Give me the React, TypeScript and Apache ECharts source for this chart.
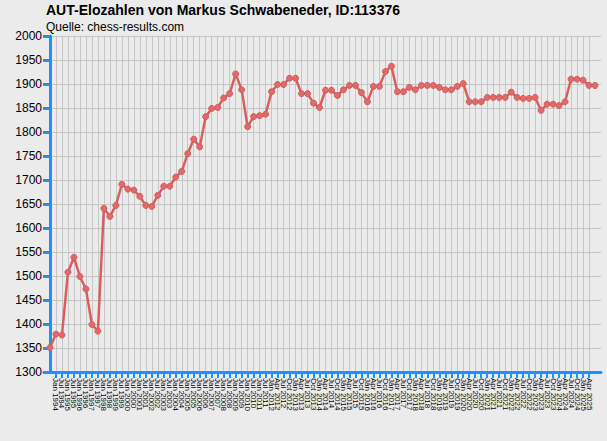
import React, { useEffect, useRef } from "react";
import * as echarts from "echarts";

const titleText = "AUT-Elozahlen von Markus Schwabeneder, ID:113376";
const sourceText = "Quelle: chess-results.com";

const periods: string[] = [
  "Jul 1993",
  "Jan 1994", "Jul 1994", "Jan 1995", "Jul 1995", "Jan 1996", "Jul 1996",
  "Jan 1997", "Jul 1997", "Jan 1998", "Jul 1998", "Jan 1999", "Jul 1999",
  "Jan 2000", "Jul 2000", "Jan 2001", "Jul 2001", "Jan 2002", "Jul 2002",
  "Jan 2003", "Jul 2003", "Jan 2004", "Jul 2004", "Jan 2005", "Jul 2005",
  "Jan 2006", "Jul 2006", "Jan 2007", "Jul 2007", "Jan 2008", "Jul 2008",
  "Jan 2009", "Jul 2009", "Jan 2010", "Jul 2010", "Jan 2011", "Jul 2011",
  "Jan 2012", "Apr 2012", "Jul 2012", "Oct 2012",
  "Jan 2013", "Apr 2013", "Jul 2013", "Oct 2013",
  "Jan 2014", "Apr 2014", "Jul 2014", "Oct 2014",
  "Jan 2015", "Apr 2015", "Jul 2015", "Oct 2015",
  "Jan 2016", "Apr 2016", "Jul 2016", "Oct 2016",
  "Jan 2017", "Apr 2017", "Jul 2017", "Oct 2017",
  "Jan 2018", "Apr 2018", "Jul 2018", "Oct 2018",
  "Jan 2019", "Apr 2019", "Jul 2019", "Oct 2019",
  "Jan 2020", "Apr 2020", "Jul 2020", "Oct 2020",
  "Jan 2021", "Apr 2021", "Jul 2021", "Oct 2021",
  "Jan 2022", "Apr 2022", "Jul 2022", "Oct 2022",
  "Jan 2023", "Apr 2023", "Jul 2023", "Oct 2023",
  "Jan 2024", "Apr 2024", "Jul 2024", "Oct 2024",
  "Jan 2025", "Apr 2025", "Jul 2025",
];

const eloValues: number[] = [
  1351, 1379, 1377, 1508, 1539, 1499, 1473, 1399, 1385, 1641,
  1624, 1647, 1691, 1681, 1679, 1666, 1647, 1645, 1668, 1687,
  1687, 1706, 1718, 1755, 1785, 1769, 1832, 1849, 1851, 1871,
  1880, 1921, 1888, 1811, 1832, 1834, 1837, 1884, 1899, 1899,
  1912, 1912, 1880, 1880, 1860, 1851, 1887, 1887, 1876, 1888,
  1897, 1897, 1882, 1863, 1895, 1895, 1926, 1937, 1884, 1884,
  1893, 1888, 1897, 1897, 1897, 1893, 1888, 1888, 1895, 1901,
  1863, 1863, 1863, 1872, 1872, 1872, 1872, 1883, 1872, 1870,
  1870, 1872, 1845, 1858, 1858, 1855, 1863, 1910, 1910, 1908,
  1897, 1897,
];

const yMin = 1300;
const yMax = 2000;
const yStep = 50;

export default function App() {
  const ref = useRef<HTMLDivElement>(null);
  useEffect(() => {
    if (!ref.current) return;
    const chart = echarts.init(ref.current, null, { renderer: "svg" });
    const idx = periods.map((_, i) => i);
    const blue = "#1e90ff";
    const font = "'Liberation Sans', Arial, sans-serif";
    chart.setOption({
      animation: false,
      backgroundColor: "#ebebeb",
      title: [
        {
          text: titleText,
          left: 46,
          top: 3,
          padding: 0,
          textStyle: { fontSize: 14, fontWeight: "bold", color: "#000", fontFamily: font },
        },
        {
          text: sourceText,
          left: 46,
          top: 21,
          padding: 0,
          textStyle: { fontSize: 12, fontWeight: "normal", color: "#000", fontFamily: font },
        },
      ],
      grid: { left: 44, right: 6, top: 36, bottom: 69, containLabel: false },
      xAxis: {
        type: "value",
        min: -1,
        max: periods.length,
        interval: 1,
        axisLine: { show: true, lineStyle: { color: blue, width: 3 } },
        axisTick: {
          show: true,
          length: 6,
          lineStyle: { color: blue, width: 2 },
          customValues: idx,
        },
        axisLabel: {
          rotate: -90,
          interval: 0,
          hideOverlap: false,
          fontSize: 8,
          color: "#000",
          margin: 6,
          fontFamily: font,
          customValues: idx,
          formatter: (v: number) => (periods[v] !== undefined ? periods[v] : ""),
        },
        splitLine: {
          show: true,
          showMinLine: false,
          showMaxLine: false,
          lineStyle: { color: "#c6c6c6", width: 1 },
        },
      },
      yAxis: {
        type: "value",
        min: yMin,
        max: yMax,
        interval: yStep,
        axisLine: { show: true, lineStyle: { color: blue, width: 3 } },
        axisTick: { show: true, length: 7, lineStyle: { color: blue, width: 3 } },
        axisLabel: {
          fontSize: 12,
          color: "#000",
          margin: 2,
          fontFamily: font,
          formatter: (v: number) => String(v),
        },
        splitLine: { show: true, lineStyle: { color: "#c6c6c6", width: 1 } },
      },
      series: [
        {
          type: "line",
          data: eloValues.map((v, i) => [i, v]),
          symbol: "circle",
          symbolSize: 6,
          lineStyle: { color: "#d95f5f", width: 2.5 },
          itemStyle: { color: "#e06a6a", borderColor: "#d65c5c", borderWidth: 1 },
        },
      ],
    });
    return () => chart.dispose();
  }, []);
  return (
    <div
      ref={ref}
      style={{ position: "fixed", left: 0, top: 0, width: 607, height: 441 }}
    />
  );
}
